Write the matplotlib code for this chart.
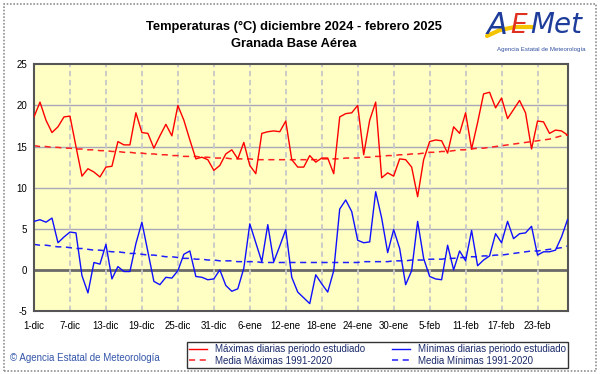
import matplotlib
matplotlib.use("Agg")
import matplotlib.pyplot as plt
from matplotlib.lines import Line2D
from matplotlib.patches import Rectangle

tmax = [18.6, 20.4, 18.2, 16.7, 17.4, 18.6, 18.7, 15.0, 11.4, 12.3,
        11.9, 11.3, 12.5, 12.6, 15.6, 15.2, 15.2, 19.1, 16.7, 16.6,
        14.8, 16.3, 17.7, 16.3, 20.0, 18.2, 15.8, 13.5, 13.7, 13.4,
        12.1, 12.7, 14.1, 14.6, 13.5, 15.5, 12.7, 11.7, 16.6, 16.8,
        16.9, 16.8, 18.1, 13.4, 12.5, 12.5, 13.9, 13.1, 13.6, 13.6,
        11.7, 18.6, 19.0, 19.1, 20.0, 14.0, 18.2, 20.4, 11.2, 11.8,
        11.4, 13.5, 13.4, 12.5, 8.9, 13.4, 15.6, 15.8, 15.7, 14.2,
        17.4, 16.6, 19.1, 14.7, 17.9, 21.4, 21.6, 19.7, 20.9, 18.4,
        19.5, 20.6, 19.1, 14.7, 18.1, 18.0, 16.6, 17.0, 16.9, 16.4]

tmin = [5.9, 6.1, 5.8, 6.3, 3.3, 4.0, 4.6, 4.5, -0.7, -2.8,
        0.9, 0.7, 3.1, -1.1, 0.4, -0.2, -0.2, 3.2, 5.8, 2.2,
        -1.4, -1.8, -0.9, -1.0, -0.1, 1.9, 2.3, -0.8, -0.9, -1.2,
        -1.1, 0.0, -1.9, -2.6, -2.3, 0.2, 5.6, 3.3, 1.0, 5.5,
        1.0, 2.9, 4.9, -0.9, -2.7, -3.4, -4.1, -0.6, -1.7, -2.7,
        -0.1, 7.4, 8.5, 7.1, 3.6, 3.3, 3.4, 9.5, 6.3, 2.1,
        4.9, 2.6, -1.8, -0.1, 5.9, 1.4, -0.8, -1.1, -1.2, 3.0,
        0.0, 2.3, 1.1, 4.8, 0.5, 1.2, 1.7, 4.4, 3.3, 5.9,
        3.8, 4.4, 4.5, 5.3, 1.8, 2.2, 2.2, 2.4, 4.0, 6.1]

media_max = [15.1, 15.0, 15.0, 14.9, 14.9, 14.8, 14.8, 14.7, 14.7, 14.6,
             14.6, 14.5, 14.5, 14.4, 14.4, 14.3, 14.3, 14.2, 14.2, 14.1,
             14.1, 14.0, 14.0, 13.9, 13.9, 13.8, 13.8, 13.8, 13.7, 13.7,
             13.6, 13.6, 13.6, 13.5, 13.5, 13.5, 13.5, 13.4, 13.4, 13.4,
             13.4, 13.4, 13.4, 13.4, 13.4, 13.4, 13.4, 13.4, 13.5, 13.5,
             13.5, 13.5, 13.6, 13.6, 13.6, 13.7, 13.7, 13.8, 13.8, 13.9,
             13.9, 14.0, 14.0, 14.1, 14.1, 14.2, 14.3, 14.3, 14.4, 14.4,
             14.5, 14.6, 14.6, 14.7, 14.8, 14.8, 14.9, 15.0, 15.1, 15.2,
             15.3, 15.4, 15.5, 15.6, 15.7, 15.8, 15.9, 16.1, 16.3, 16.4]

media_min = [3.1, 3.0, 3.0, 2.9, 2.8, 2.8, 2.7, 2.6, 2.6, 2.5,
             2.4, 2.4, 2.3, 2.2, 2.2, 2.1, 2.0, 2.0, 1.9, 1.8,
             1.8, 1.7, 1.6, 1.6, 1.5, 1.4, 1.4, 1.3, 1.3, 1.2,
             1.2, 1.1, 1.1, 1.1, 1.0, 1.0, 1.0, 1.0, 0.9, 0.9,
             0.9, 0.9, 0.9, 0.9, 0.9, 0.9, 0.9, 0.9, 0.9, 0.9,
             0.9, 0.9, 0.9, 0.9, 0.9, 1.0, 1.0, 1.0, 1.0, 1.0,
             1.1, 1.1, 1.1, 1.2, 1.2, 1.2, 1.3, 1.3, 1.3, 1.4,
             1.4, 1.5, 1.5, 1.6, 1.6, 1.7, 1.7, 1.8, 1.8, 1.9,
             2.0, 2.1, 2.2, 2.3, 2.3, 2.4, 2.5, 2.6, 2.7, 2.9]

xtick_labels = ["1-dic", "7-dic", "13-dic", "19-dic", "25-dic", "31-dic", "6-ene",
                "12-ene", "18-ene", "24-ene", "30-ene", "5-feb", "11-feb", "17-feb", "23-feb"]
yticks = [-5, 0, 5, 10, 15, 20, 25]

plt.rcParams['font.family'] = ['Liberation Sans', 'DejaVu Sans']
plt.rcParams['axes.unicode_minus'] = False

fig = plt.figure(figsize=(6.01, 3.74), dpi=100)
fig.patch.set_facecolor('white')
W, H = 601, 374

def fx(px):
    return px / W

def fy(py):
    return 1 - py / H

# outer border
fig.add_artist(Rectangle((fx(3.5), fy(370.5)), 592 / W, 367 / H, transform=fig.transFigure,
                         fill=False, edgecolor='#909090', linewidth=1.2, linestyle=(0, (1, 1))))

ax = fig.add_axes([fx(34), fy(311), (567.5 - 34) / W, (311 - 64.3) / H])
ax.set_facecolor('#FFFFC4')

days = list(range(len(tmax)))
ax.set_xlim(0, len(tmax) - 1)
ax.set_ylim(-5, 25)

for y in [5, 10, 15, 20]:
    ax.axhline(y, color='#A8A8B8', linewidth=1.0, zorder=1)
ax.axhline(0, color='#6A6A6A', linewidth=2.0, zorder=1)
xt = list(range(0, len(tmax), 6))
for x in xt[1:]:
    ax.axvline(x, color='#C8C8C8', linewidth=1.3, linestyle=(0, (3, 2)), zorder=1)

l1, = ax.plot(days, tmax, color='#FF0000', linewidth=1.0, zorder=3)
l2, = ax.plot(days, media_max, color='#FF2020', linewidth=1.1, linestyle=(0, (4, 3)), zorder=2)
l3, = ax.plot(days, tmin, color='#1010FF', linewidth=1.0, zorder=3)
l4, = ax.plot(days, media_min, color='#2020FF', linewidth=1.1, linestyle=(0, (4, 3)), zorder=2)

ax.set_xticks(xt)
ax.set_xticklabels(xtick_labels)
ax.set_yticks(yticks)
ax.tick_params(axis='both', length=0, labelsize=7, colors='#000000')
ax.tick_params(axis='x', pad=7)
ax.tick_params(axis='y', pad=5)
for s in ax.spines.values():
    s.set_color('#555555')
    s.set_linewidth(1.5)

fig.text(fx(294), fy(27), "Temperaturas (°C) diciembre 2024 - febrero 2025",
         ha='center', va='center', fontsize=9.3, fontweight='bold', color='#000000')
fig.text(fx(294), fy(44), "Granada Base Aérea",
         ha='center', va='center', fontsize=9.3, fontweight='bold', color='#000000')

# logo
fig.add_artist(Line2D([fx(487), fx(500), fx(515), fx(532)], [fy(36), fy(30), fy(27), fy(27)],
                      transform=fig.transFigure, color='#F5C400', linewidth=3.0,
                      solid_capstyle='round'))
fig.text(fx(497), fy(25), "A", ha='center', va='center', fontsize=22, style='italic',
         color='#1E3C9A', family=['DejaVu Sans'])
fig.text(fx(519), fy(26), "E", ha='center', va='center', fontsize=19, style='italic',
         color='#E03020', family=['DejaVu Sans'])
fig.text(fx(556), fy(25), "Met", ha='center', va='center', fontsize=20, style='italic',
         color='#1E3C9A', family=['DejaVu Sans'])
fig.text(fx(541), fy(49), "Agencia Estatal de Meteorología", ha='center', va='center',
         fontsize=4.4, color='#3050A0')

fig.text(fx(10), fy(358), "© Agencia Estatal de Meteorología", ha='left', va='center',
         fontsize=7, color='#3355AA')

handles = [l1, l2, l3, l4]
labels = ["Máximas diarias periodo estudiado", "Media Máximas 1991-2020",
          "Mínimas diarias periodo estudiado", "Media Mínimas 1991-2020"]
leg = fig.legend(handles, labels, ncol=2, loc='lower left',
                 bbox_to_anchor=(fx(187), fy(368), (568 - 187) / W, (368 - 336) / H),
                 mode='expand', fontsize=7, frameon=True, fancybox=False,
                 handlelength=1.8, handletextpad=0.8, borderpad=0.25, labelspacing=0.15,
                 columnspacing=1.0, borderaxespad=0)
leg.get_frame().set_edgecolor('#000000')
leg.get_frame().set_linewidth(1.0)
for t in leg.get_texts():
    t.set_color('#1A2A6A')

fig.savefig("out.png", dpi=100)
